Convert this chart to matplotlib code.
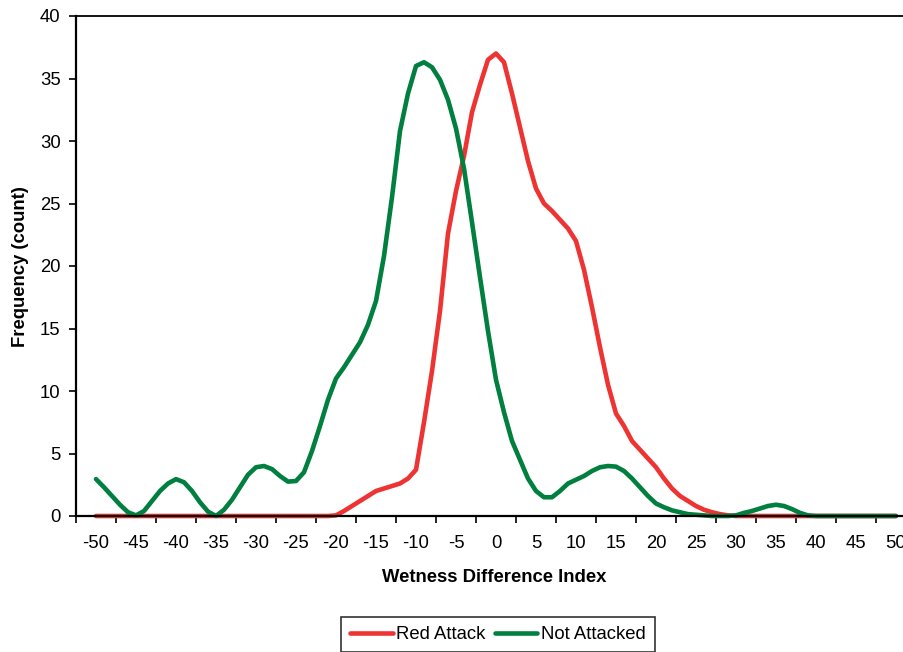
import matplotlib
matplotlib.use('Agg')
import matplotlib.pyplot as plt

plt.rcParams['font.family'] = ['Liberation Sans', 'DejaVu Sans']

# Wetness difference index (one value per unit step).
wdi = list(range(-50, 51))

red_attack = [
    0, 0, 0, 0, 0, 0, 0, 0, 0, 0,                       # -50 .. -41
    0, 0, 0, 0, 0, 0, 0, 0, 0, 0,                       # -40 .. -31
    0, 0, 0, 0, 0, 0, 0, 0, 0, 0,                       # -30 .. -21
    0.05, 0.4, 0.8, 1.2, 1.6, 2.0, 2.2, 2.4, 2.6, 3.0,  # -20 .. -11
    3.7, 7.5, 11.6, 16.4, 22.6, 26.0, 28.8, 32.3, 34.5, 36.5,  # -10 .. -1
    37.0, 36.3, 33.8, 31.1, 28.4, 26.2, 25.0, 24.4, 23.7, 23.0,  # 0 .. 9
    22.0, 19.7, 16.7, 13.5, 10.5, 8.2, 7.2, 6.0, 5.3, 4.6,       # 10 .. 19
    3.9, 3.0, 2.2, 1.6, 1.2, 0.8, 0.5, 0.3, 0.15, 0.05,          # 20 .. 29
    0, 0, 0, 0, 0, 0, 0, 0, 0, 0,                                # 30 .. 39
    0, 0, 0, 0, 0, 0, 0, 0, 0, 0,                                # 40 .. 49
    0,                                                           # 50
]

not_attacked = [
    2.95, 2.3, 1.6, 0.9, 0.3, 0.05, 0.4, 1.2, 2.0, 2.6,          # -50 .. -41
    2.95, 2.7, 2.0, 1.1, 0.35, 0.0, 0.5, 1.3, 2.3, 3.3,          # -40 .. -31
    3.9, 4.0, 3.75, 3.2, 2.75, 2.8, 3.5, 5.2, 7.2, 9.3,          # -30 .. -21
    11.0, 11.9, 12.9, 13.9, 15.3, 17.2, 20.8, 25.5, 30.8, 33.8,  # -20 .. -11
    36.0, 36.3, 35.9, 34.9, 33.3, 31.0, 27.8, 23.5, 19.1, 14.8,  # -10 .. -1
    10.9, 8.3, 6.0, 4.5, 3.0, 2.0, 1.5, 1.5, 2.0, 2.6,           # 0 .. 9
    2.9, 3.2, 3.6, 3.9, 4.0, 3.95, 3.6, 3.0, 2.3, 1.6,           # 10 .. 19
    1.0, 0.7, 0.45, 0.3, 0.15, 0.1, 0.05, 0, 0, 0,               # 20 .. 29
    0.05, 0.25, 0.4, 0.6, 0.8, 0.9, 0.8, 0.55, 0.25, 0.05,       # 30 .. 39
    0, 0, 0, 0, 0, 0, 0, 0, 0, 0,                                # 40 .. 49
    0,                                                           # 50
]

x_labels = list(range(-50, 55, 5))
y_ticks = list(range(0, 45, 5))

fs = 13.3

fig = plt.figure(figsize=(9.04, 6.52), dpi=100)
# The plot area runs a little past the right edge of the image, as in the original.
ax = fig.add_axes([76 / 904, 1 - 516 / 652, 840 / 904, 500 / 652])

ax.plot(wdi, red_attack, color='#EE3333', lw=3.3, solid_joinstyle='round',
        solid_capstyle='round', label='Red Attack', clip_on=False)
ax.plot(wdi, not_attacked, color='#007F3F', lw=3.3, solid_joinstyle='round',
        solid_capstyle='round', label='Not Attacked', clip_on=False)

ax.set_xlim(-52.5, 52.5)
ax.set_ylim(0, 40)

# Category-style x axis: labels in the middle, tick marks on the boundaries.
ax.set_xticks(x_labels)
ax.set_xticklabels([str(v) for v in x_labels], fontsize=fs)
ax.set_xticks([v - 2.5 for v in x_labels] + [52.5], minor=True)
ax.tick_params(axis='x', which='major', length=0, pad=14)
ax.tick_params(axis='x', which='minor', length=5, width=1.2, direction='out')

ax.set_yticks(y_ticks)
ax.set_yticklabels([str(v) for v in y_ticks], fontsize=fs)
ax.tick_params(axis='y', length=5, width=1.2, direction='out', pad=6)

for side in ['left', 'bottom']:
    ax.spines[side].set_linewidth(1.6)
ax.spines['top'].set_linewidth(1.3)
ax.spines['right'].set_linewidth(1.3)

ax.set_xlabel('Wetness Difference Index', fontsize=fs, fontweight='bold', va='center')
ax.xaxis.set_label_coords((494 - 76) / 840, (516 - 577) / 500)
ax.set_ylabel('Frequency (count)', fontsize=fs, fontweight='bold', va='center')
ax.yaxis.set_label_coords((20 - 76) / 840, (516 - 267) / 500)

leg = fig.legend(loc='upper center', bbox_to_anchor=(498 / 904, 1 - 617 / 652),
                 ncol=2, frameon=True, fancybox=False, fontsize=fs,
                 handlelength=2.3, handletextpad=0.2, columnspacing=0.5,
                 borderpad=0.5, borderaxespad=0)
leg.get_frame().set_edgecolor('black')
leg.get_frame().set_linewidth(1.2)

fig.savefig('out.png', dpi=100)
